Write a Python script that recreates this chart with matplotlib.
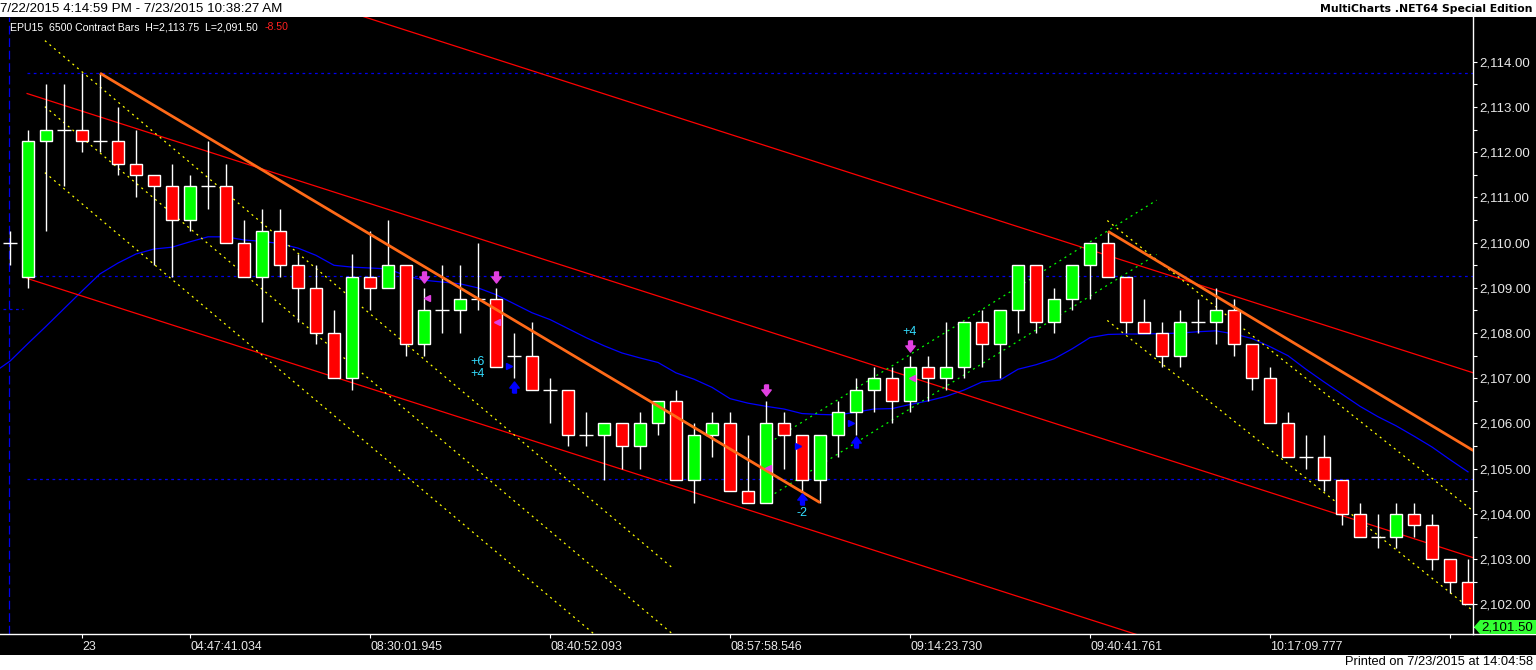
import numpy as np
import matplotlib
matplotlib.use('Agg')
import matplotlib.pyplot as plt
from matplotlib.patches import Rectangle, Polygon
from matplotlib.path import Path
from matplotlib.lines import Line2D

plt.rcParams['font.family'] = ['Liberation Sans', 'DejaVu Sans']

# OHLC bars (6500 contract bars, EPU15)
opens = [2110.0, 2109.25, 2112.25, 2112.5, 2112.5, 2112.25, 2112.25, 2111.75, 2111.5, 2111.25,
         2110.5, 2111.25, 2111.25, 2110.0, 2109.25, 2110.25, 2109.5, 2109.0, 2108.0, 2107.0,
         2109.25, 2109.0, 2109.5, 2107.75, 2108.5, 2108.5, 2108.75, 2108.75, 2107.5, 2107.5,
         2106.75, 2106.75, 2105.75, 2105.75, 2106.0, 2105.5, 2106.0, 2106.5, 2104.75, 2105.75,
         2106.0, 2104.5, 2104.25, 2106.0, 2105.75, 2104.75, 2105.75, 2106.25, 2106.75, 2107.0,
         2106.5, 2107.25, 2107.0, 2107.25, 2108.25, 2107.75, 2108.5, 2109.5, 2108.25, 2108.75,
         2109.5, 2110.0, 2109.25, 2108.25, 2108.0, 2107.5, 2108.25, 2108.25, 2108.5, 2107.75,
         2107.0, 2106.0, 2105.25, 2105.25, 2104.75, 2104.0, 2103.5, 2103.5, 2104.0, 2103.75,
         2103.0, 2102.5]
highs = [2110.25, 2112.5, 2113.5, 2113.5, 2113.75, 2113.75, 2113.0, 2112.5, 2111.5, 2111.75,
         2111.5, 2112.25, 2111.75, 2110.5, 2110.75, 2110.75, 2109.75, 2109.5, 2108.5, 2109.75,
         2110.25, 2110.5, 2109.5, 2109.0, 2109.5, 2109.5, 2110.0, 2109.0, 2108.0, 2108.25,
         2107.0, 2106.75, 2106.25, 2106.0, 2106.0, 2106.25, 2106.5, 2106.75, 2106.0, 2106.25,
         2106.25, 2105.75, 2106.5, 2106.25, 2105.75, 2105.75, 2106.5, 2107.0, 2107.25, 2107.25,
         2107.5, 2107.5, 2108.25, 2108.25, 2108.5, 2108.5, 2109.5, 2109.5, 2109.0, 2109.5,
         2110.0, 2110.25, 2109.25, 2108.75, 2108.25, 2108.5, 2108.75, 2109.0, 2108.75, 2107.75,
         2107.25, 2106.25, 2105.75, 2105.75, 2104.75, 2104.25, 2104.0, 2104.25, 2104.25, 2104.0,
         2103.0, 2103.0]
lows = [2109.5, 2109.0, 2110.25, 2111.25, 2112.0, 2112.0, 2111.5, 2111.0, 2109.5, 2109.25,
        2110.25, 2110.75, 2110.0, 2109.25, 2108.25, 2109.25, 2108.25, 2107.75, 2107.0, 2106.75,
        2108.5, 2109.0, 2107.5, 2107.5, 2108.0, 2108.0, 2108.5, 2107.25, 2107.0, 2106.75,
        2106.0, 2105.5, 2105.5, 2104.75, 2105.0, 2105.0, 2105.75, 2104.75, 2104.25, 2105.25,
        2104.5, 2104.25, 2104.25, 2105.0, 2104.5, 2104.25, 2105.25, 2105.75, 2106.25, 2106.0,
        2106.25, 2106.5, 2106.75, 2107.0, 2107.25, 2107.0, 2108.0, 2108.0, 2108.0, 2108.5,
        2108.75, 2109.25, 2108.0, 2108.0, 2107.25, 2107.25, 2108.0, 2107.75, 2107.5, 2106.75,
        2106.0, 2105.25, 2105.0, 2104.5, 2103.75, 2103.5, 2103.25, 2103.25, 2103.5, 2102.75,
        2102.25, 2102.0]
closes = [2110.0, 2112.25, 2112.5, 2112.5, 2112.25, 2112.25, 2111.75, 2111.5, 2111.25, 2110.5,
          2111.25, 2111.25, 2110.0, 2109.25, 2110.25, 2109.5, 2109.0, 2108.0, 2107.0, 2109.25,
          2109.0, 2109.5, 2107.75, 2108.5, 2108.5, 2108.75, 2108.75, 2107.25, 2107.5, 2106.75,
          2106.75, 2105.75, 2105.75, 2106.0, 2105.5, 2106.0, 2106.5, 2104.75, 2105.75, 2106.0,
          2104.5, 2104.25, 2106.0, 2105.75, 2104.75, 2105.75, 2106.25, 2106.75, 2107.0, 2106.5,
          2107.25, 2107.0, 2107.25, 2108.25, 2107.75, 2108.5, 2109.5, 2108.25, 2108.75, 2109.5,
          2110.0, 2109.25, 2108.25, 2108.0, 2107.5, 2108.25, 2108.25, 2108.5, 2107.75, 2107.0,
          2106.0, 2105.25, 2105.25, 2104.75, 2104.0, 2103.5, 2103.5, 2104.0, 2103.75, 2103.0,
          2102.5, 2102.0]

# blue moving average (first value belongs to the bar before the window)
ma_vals = [2107.1, 2107.38, 2107.77, 2108.15, 2108.54, 2108.93, 2109.31, 2109.55, 2109.75, 2109.86,
           2109.90, 2110.02, 2110.13, 2110.13, 2110.06, 2110.03, 2109.98, 2109.88, 2109.72, 2109.50,
           2109.46, 2109.44, 2109.42, 2109.27, 2109.17, 2109.13, 2109.09, 2109.0, 2108.85, 2108.65,
           2108.45, 2108.30, 2108.1, 2107.9, 2107.72, 2107.56, 2107.45, 2107.35, 2107.12, 2106.98,
           2106.80, 2106.55, 2106.45, 2106.38, 2106.32, 2106.22, 2106.2, 2106.19, 2106.25, 2106.32,
           2106.33, 2106.42, 2106.5, 2106.6, 2106.74, 2106.92, 2106.96, 2107.2, 2107.3, 2107.43,
           2107.65, 2107.9, 2107.97, 2107.98, 2107.98, 2107.99, 2108.0, 2108.03, 2108.05, 2107.98,
           2107.88, 2107.70, 2107.50, 2107.2, 2106.92, 2106.65, 2106.38, 2106.15, 2105.95, 2105.72,
           2105.48, 2105.2, 2104.93]

time_tick_bars = [4, 10, 20, 30, 40, 50, 60, 70, 80]
time_tick_labels = ['23', '04:47:41.034', '08:30:01.945', '08:40:52.093', '08:57:58.546',
                    '09:14:23.730', '09:40:41.761', '10:17:09.777', '']
price_ticks = list(range(2102, 2115))

# drawing tools: anchors as (bar index, price)
red_chan_bars = [0.95, 81.3]
red_chan_mid = [2113.30, 2103.03]
red_chan_half = 4.09
yel_left_bars = [1.94, 36.76]
yel_left_top = [2114.47, 2102.82]
yel_left_offsets = [0.0, 1.46, 2.92]
yel_right_bars = [60.96, 81.3]
yel_right_top = [2110.49, 2104.06]
yel_right_offsets = [0.0, 2.21]
grn_bars = [42.2, 63.7]
grn_top = [2105.58, 2110.94]
grn_offsets = [0.0, 1.2]
trend1_bars = [5, 45]
trend1_prices = [2113.75, 2104.25]
trend2_bars = [61, 81.3]
trend2_prices = [2110.25, 2105.40]
level_prices = [2113.75, 2109.27, 2104.77]

# strategy signals
sell_bars = [23, 27, 42, 50]
sell_prices = [2109.23, 2109.23, 2106.73, 2107.72]
buy_bars = [28, 44, 47]
buy_prices = [2106.81, 2104.33, 2105.58]
exit_bars = [23.15, 27.07, 42.13, 50.1]
exit_prices = [2108.77, 2108.25, 2105.02, 2107.0]
entry_bars = [27.72, 43.8, 46.7]
entry_prices = [2107.27, 2105.5, 2106.02]
sig_text_bars = [26, 26, 44, 50]
sig_text_prices = [2107.35, 2107.09, 2104.01, 2108.03]
sig_texts = ['+6', '+4', '-2', '+4']

W, H = 1536, 670


def fx(px):
    return px / W


def fy(py):
    return 1 - py / H


fig = plt.figure(figsize=(W / 100, H / 100), dpi=100)
fig.patch.set_facecolor('white')
fig.patches.append(Rectangle((0, fy(655)), 1, fy(17) - fy(655), transform=fig.transFigure,
                             facecolor='black', edgecolor='none', zorder=-5))

ax = fig.add_axes([0, fy(634), fx(1473), fy(17) - fy(634)])
ax.set_facecolor('black')
ax.set_xlim(-10 / 18, 1463 / 18)
ax.set_ylim(2101.343, 2114.993)

# candles
x = np.arange(len(opens))
o = np.array(opens)
c = np.array(closes)
ax.vlines(x, lows, highs, color='white', lw=1.0, zorder=3)
up = c > o
dn = c < o
flat = c == o
ax.bar(x[up], (c - o)[up], bottom=o[up], width=0.70, color='#00ff00', edgecolor='white',
       linewidth=1.0, zorder=4)
ax.bar(x[dn], (o - c)[dn], bottom=c[dn], width=0.70, color='#ff0000', edgecolor='white',
       linewidth=1.0, zorder=4)
ax.hlines(o[flat], x[flat] - 0.37, x[flat] + 0.37, color='white', lw=1.0, zorder=4)

# moving average
ax.plot(np.arange(-1, len(ma_vals) - 1), ma_vals, color='#0000ff', lw=0.9, zorder=2)

# levels and vertical marker
for p in level_prices:
    ax.plot([0.95, 81.3], [p, p], color='#0000ee', lw=0.9, ls=(0, (2.2, 2.8)), zorder=1)
ax.plot([-0.4, 0.72], [2108.53, 2108.53], color='#0000ee', lw=0.9, ls=(0, (2.2, 2.8)), zorder=1)
ax.axvline(-0.04, color='#0000ee', lw=0.9, ls=(0, (7, 3)), zorder=1)

# red regression channel
for k in (-1, 0, 1):
    ax.plot(red_chan_bars, [m + k * red_chan_half for m in red_chan_mid], color='#ff0000',
            lw=0.9, zorder=2)

dots = (0, (1.6, 3.2))
for off in yel_left_offsets:
    ax.plot(yel_left_bars, [p - off for p in yel_left_top], color='#ffff00', lw=0.9, ls=dots, zorder=2)
for off in yel_right_offsets:
    ax.plot(yel_right_bars, [p - off for p in yel_right_top], color='#ffff00', lw=0.9, ls=dots, zorder=2)
for off in grn_offsets:
    ax.plot(grn_bars, [p - off for p in grn_top], color='#00ff00', lw=0.9, ls=dots, zorder=2)

# trend lines
ax.plot(trend1_bars, trend1_prices, color='#ff6a18', lw=2.0, zorder=5, solid_capstyle='butt')
ax.plot(trend2_bars, trend2_prices, color='#ff6a18', lw=2.0, zorder=5, solid_capstyle='butt')

# signal markers
down_arrow = Path([(-0.35, 1), (0.35, 1), (0.35, 0.1), (0.85, 0.1), (0, -1), (-0.85, 0.1),
                   (-0.35, 0.1), (-0.35, 1)])
up_arrow = Path([(-0.35, -1), (0.35, -1), (0.35, -0.1), (0.85, -0.1), (0, 1), (-0.85, -0.1),
                 (-0.35, -0.1), (-0.35, -1)])
ax.plot(sell_bars, sell_prices, ls='none', marker=down_arrow, ms=8, color='#e040e0', zorder=6)
ax.plot(buy_bars, buy_prices, ls='none', marker=up_arrow, ms=8, color='#0000ff', zorder=6)
ax.plot(exit_bars, exit_prices, ls='none', marker='<', ms=5, color='#e040e0', zorder=6)
ax.plot(entry_bars, entry_prices, ls='none', marker='>', ms=5, color='#0000ff', zorder=6)
for b, p, t in zip(sig_text_bars, sig_text_prices, sig_texts):
    ax.text(b, p, t, color='#33ddff', fontsize=9, ha='center', va='center', zorder=7)

# axes styling
for side in ('left', 'top'):
    ax.spines[side].set_visible(False)
for side in ('right', 'bottom'):
    ax.spines[side].set_color('white')
    ax.spines[side].set_linewidth(1.0)

ax.yaxis.tick_right()
ax.set_yticks(price_ticks)
ax.set_yticklabels([f'{p:,.2f}' for p in price_ticks])
ax.set_yticks([p + 0.5 for p in price_ticks[:-1]] + [2101.5], minor=True)
ax.tick_params(axis='y', which='both', colors='white', labelcolor='#e8e8e8', labelsize=9.5,
               length=3, width=0.8, pad=1.5)
ax.set_xticks(time_tick_bars)
ax.set_xticklabels(time_tick_labels, ha='left')
ax.tick_params(axis='x', colors='white', labelcolor='#e8e8e8', labelsize=8.9, length=3,
               width=0.8, pad=2)

fig.add_artist(Line2D([fx(1473), 1], [fy(634), fy(634)], color='white', lw=1.0,
                      transform=fig.transFigure))

# last price marker
fig.patches.append(Polygon([(fx(1474), fy(627)), (fx(1480), fy(620)), (fx(1536), fy(620)),
                            (fx(1536), fy(634)), (fx(1480), fy(634))], closed=True,
                           transform=fig.transFigure, facecolor='#33ff33', edgecolor='none',
                           zorder=5))
fig.text(fx(1481), fy(627.5), '2,101.50', color='black', fontsize=9.5, va='center', ha='left',
         zorder=6)

# headers
fig.text(fx(0), fy(9), '7/22/2015 4:14:59 PM - 7/23/2015 10:38:27 AM', color='black',
         fontsize=9.6, va='center', ha='left')
fig.text(fx(1533), fy(9), 'MultiCharts .NET64 Special Edition', color='black',
         fontsize=7.8, fontweight='bold', va='center', ha='right',
         family=['DejaVu Sans'])
fig.text(fx(10.5), fy(27), 'EPU15  6500 Contract Bars  H=2,113.75  L=2,091.50', color='white',
         fontsize=7.6, va='center', ha='left', zorder=6)
fig.text(fx(265), fy(27), '-8.50', color='#ff2020', fontsize=7.6, va='center', ha='left',
         zorder=6)
fig.text(fx(1533), fy(662), 'Printed on 7/23/2015 at 14:04:58', color='black', fontsize=9.3,
         va='center', ha='right')

fig.savefig('out.png', dpi=100, facecolor=fig.get_facecolor())
